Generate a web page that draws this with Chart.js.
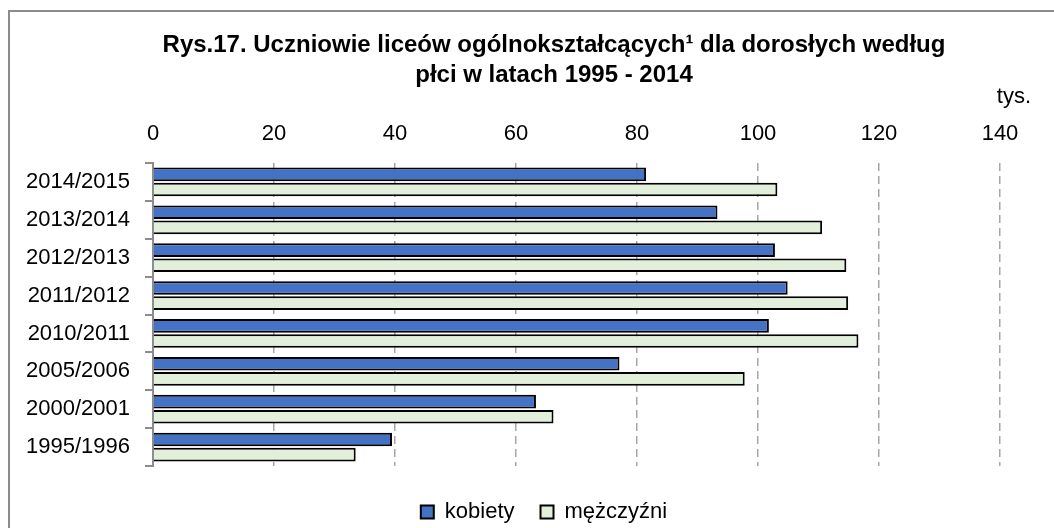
<!DOCTYPE html>
<html>
<head>
<meta charset="utf-8">
<script src="https://cdn.jsdelivr.net/npm/chart.js@4"></script>
<style>
  html,body{margin:0;padding:0;background:#fff;}
  #wrap{position:relative;width:1054px;height:528px;overflow:hidden;}
  #frame{position:absolute;left:8px;top:10px;width:1100px;height:600px;border-left:2px solid #8c8c8c;border-top:2px solid #8c8c8c;}
  #c{position:absolute;left:0;top:0;}
</style>
</head>
<body>
<div id="wrap">
  <div id="frame"></div>
  <canvas id="c" width="1054" height="528"></canvas>
</div>
<script>
// years from top to bottom as in the picture
const years = ['2014/2015','2013/2014','2012/2013','2011/2012','2010/2011','2005/2006','2000/2001','1995/1996'];
const kobiety = [81.5, 93.3, 102.8, 104.9, 101.8, 77.1, 63.3, 39.5];
const mezczyzni = [103.2, 110.6, 114.6, 114.9, 116.6, 97.8, 66.2, 33.5];
const xTicks = [0, 20, 40, 60, 80, 100, 120, 140];
const titleLines = ['Rys.17. Uczniowie liceów ogólnokształcących¹ dla dorosłych według', 'płci w latach 1995 - 2014'];

const fontReg = "'Liberation Sans', Arial, sans-serif";

// title + unit label "tys."
const headText = {
  id:'headText',
  afterLayout(chart){
    // legend sits a bit right of the middle in the original
    chart.legend.left += 38;
    chart.legend.right += 38;
  },
  afterDraw(chart){
    const ctx = chart.ctx;
    ctx.save();
    ctx.fillStyle = '#000';
    ctx.textBaseline = 'middle';
    ctx.textAlign = 'center';
    ctx.font = 'bold 24px ' + fontReg;
    ctx.fillText(titleLines[0], 554, 45);
    ctx.fillText(titleLines[1], 554, 75);
    ctx.font = '22px ' + fontReg;
    ctx.textAlign = 'right';
    ctx.fillText('tys.', 1031, 97);
    ctx.restore();
  }
};

new Chart(document.getElementById('c'),{
  type:'bar',
  data:{
    labels:years,
    datasets:[
      {label:'kobiety', data:kobiety, backgroundColor:'#4472C4', borderColor:'#000', borderWidth:2},
      {label:'mężczyźni', data:mezczyzni, backgroundColor:'#E2EFDA', borderColor:'#000', borderWidth:2}
    ]
  },
  options:{
    indexAxis:'y',
    responsive:false,
    animation:false,
    categoryPercentage:0.8,
    barPercentage:0.9,
    layout:{padding:{left:12, right:54, top:103, bottom:-5}},
    plugins:{
      legend:{
        position:'bottom',
        title:{display:true, text:'', font:{size:5}, padding:{top:3, bottom:0}},
        labels:{
          font:{family:fontReg, size:22},
          color:'#000',
          boxWidth:13, boxHeight:13,
          padding:26,
          useBorderRadius:false
        }
      },
      tooltip:{enabled:false}
    },
    scales:{
      x:{
        position:'top',
        min:0, max:140,
        afterBuildTicks(scale){ scale.ticks = xTicks.map(v=>({value:v})); },
        ticks:{font:{family:fontReg, size:22}, color:'#000', padding:16},
        grid:{color:'#a6a6a6', lineWidth:1.5, drawTicks:false},
        border:{display:false, dash:[8,5]},
        afterFit(scale){ scale.height = 60; }
      },
      y:{
        ticks:{font:{family:fontReg, size:22}, color:'#000', padding:15},
        grid:{drawOnChartArea:false, offset:true, tickLength:8, color:'#8c8c8c', lineWidth:2},
        border:{color:'#8c8c8c', width:2},
        afterFit(scale){ scale.width = 141; }
      }
    }
  },
  plugins:[headText]
});
</script>
</body>
</html>
